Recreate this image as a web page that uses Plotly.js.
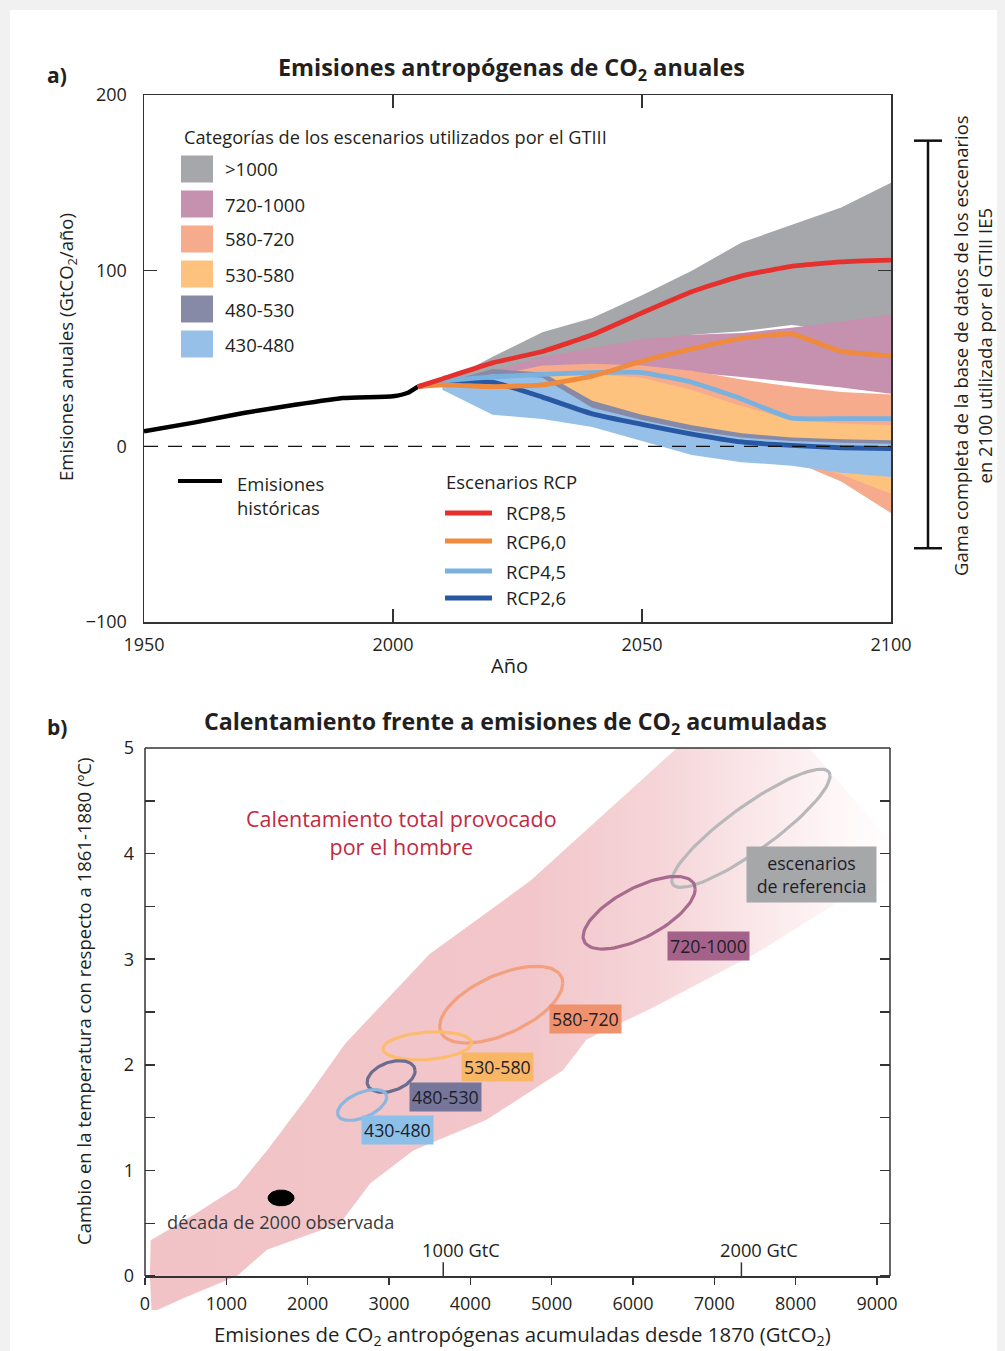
<!DOCTYPE html>
<html>
<head>
<meta charset="utf-8">
<script src="https://cdn.plot.ly/plotly-3.0.1.min.js"></script>
<style>
  html, body { margin: 0; padding: 0; background: #f1f1f1; }
  #grafico { width: 1005px; height: 1351px; }
</style>
</head>
<body>
<div id="grafico"></div>
<script>
// ---------- Panel a: emisiones anuales (GtCO2/año) ----------
const anosHist = [1950, 1960, 1970, 1980, 1990, 2000, 2003, 2005];
const emisHist = [8.5, 13.5, 19, 23.5, 27.5, 28.5, 30.5, 34];

const anosRCP = [2005, 2010, 2020, 2030, 2040, 2050, 2060, 2070, 2080, 2090, 2100];
const rcp85 = [34, 38.5, 47.5, 54, 63.5, 76, 88, 97, 102.5, 105, 106];
const rcp60 = [34, 35, 34, 35, 40, 48.5, 55.5, 61.5, 64, 54, 51.5];
const rcp45 = [34, 37, 39.5, 41, 42, 42, 36.5, 27, 16, 15.8, 15.8];
const rcp26 = [34, 36, 36.5, 28, 18.5, 12.5, 7, 2.5, 0.5, -0.8, -1.3];

// Rangos de las categorías de escenarios del GTIII (ppm CO2eq en 2100)
const anosCat = [2010, 2020, 2030, 2040, 2050, 2060, 2070, 2080, 2090, 2100];
const catNombres = ['>1000', '720-1000', '580-720', '530-580', '480-530', '430-480'];
const supMas1000 = [36, 51, 65, 73, 86, 100, 116, 126, 136, 150];
const infMas1000 = [34, 38, 43, 48, 54, 63.5, 65.5, 69, 66, 62];
const sup720 = [35.5, 43, 51, 56, 61, 63.5, 64.5, 67.5, 71, 75];
const inf720 = [33, 36, 38, 40, 42, 42, 39.5, 36.5, 33.5, 30];
const sup580 = [35, 40, 46, 47, 46, 43, 38, 34, 31, 29.5];
const inf580 = [33, 30, 24, 18, 12, 6, 0, -8, -20, -38];
const sup530 = [35, 40, 42, 41, 39, 32, 23, 15, 13, 12];
const inf530 = [33, 30, 25, 18, 11, 5, 0, -7, -16, -27];
const sup480 = [36, 44, 42, 26, 18, 12, 7.5, 5, 4, 3.5];
const inf480 = [32, 25, 20, 14, 8, 3, -1, -3, -4, -5];
const sup430 = [36, 41, 39, 22, 15, 9, 5, 3, 2, 1.5];
const inf430 = [32, 18, 15.5, 11, 3, -5, -9, -11, -15, -17.5];

// Gama completa de la base de datos en 2100
const gamaCompleta2100 = [-58, 174];

// ---------- Panel b: calentamiento frente a emisiones acumuladas ----------
const bandaEmis = [80, 60, 70, 600, 1130, 1500, 2000, 2460, 3500, 4735, 6540, 7000,
                   7600, 9300, 9300, 8630, 7500, 6210, 5430, 5140, 4200, 3300, 2770, 2400, 1500, 1130, 500, 150];
const bandaTemp = [-0.32, 0.0, 0.34, 0.58, 0.84, 1.19, 1.7, 2.2, 3.05, 3.74, 5.0, 5.5,
                   5.5, 4.0, 3.8, 3.59, 3.05, 2.53, 2.24, 1.95, 1.48, 1.19, 0.88, 0.5, 0.25, 0.0, -0.2, -0.32];

const catB = ['430-480', '480-530', '530-580', '580-720', '720-1000', 'escenarios<br>de referencia'];
const emisCentro = [2670, 3026, 3470, 4380, 6076, 7450];
const tempCentro = [1.62, 1.89, 2.18, 2.57, 3.44, 4.24];
const emisSemi = [302, 295, 545, 757, 689, 973];
const tempSemi = [0.125, 0.14, 0.13, 0.30, 0.26, 0.26];
const pendiente = [0.00025, 0.000178, 0.00005, 0.000271, 0.000327, 0.000509];

const obsEmis = 1673, obsTemp = 0.74;

const gtcTicks = [3667, 7333];
const gtcTexto = ['1000 GtC', '2000 GtC'];

// ---------- Estilo ----------
const W = 1005, H = 1351;
const FUENTE = '"Open Sans", "Noto Sans", sans-serif';
const TXT = '#231f20';
const px = x => x / W;
const py = y => 1 - y / H;

const coloresCat = ['#a5a7aa', '#c690af', '#f5ab8c', '#fdc27e', '#878aa6', '#97c0e8'];
const bandasSup = [supMas1000, sup720, sup580, sup530, sup480, sup430];
const bandasInf = [infMas1000, inf720, inf580, inf530, inf480, inf430];

const lineaColor = ['#8ab6df', '#6b6d8f', '#fbbd6d', '#f2a07e', '#a86a8e', '#b8b8ba'];
const etiquetaColor = ['#8cc0e8', '#75769a', '#f9b766', '#f0916d', '#a4628a', '#a5a7a9'];

function elipse(cx, cy, rx, ry, m) {
  const xs = [], ys = [];
  for (let i = 0; i <= 96; i++) {
    const t = 2 * Math.PI * i / 96;
    xs.push(cx + rx * Math.cos(t));
    ys.push(cy + m * rx * Math.cos(t) + ry * Math.sin(t));
  }
  return { xs, ys };
}

const traces = [];

// bandas de categorías (panel a)
bandasSup.forEach((sup, i) => {
  traces.push({
    x: anosCat.concat(anosCat.slice().reverse()),
    y: sup.concat(bandasInf[i].slice().reverse()),
    type: 'scatter', mode: 'lines', fill: 'toself',
    fillcolor: coloresCat[i], line: { width: 0, color: coloresCat[i] },
    name: catNombres[i], showlegend: false, hoverinfo: 'skip',
    xaxis: 'x', yaxis: 'y'
  });
});

// emisiones históricas
traces.push({
  x: anosHist, y: emisHist, type: 'scatter', mode: 'lines',
  line: { color: '#000', width: 4.5, shape: 'spline', smoothing: 0.5 },
  showlegend: false, xaxis: 'x', yaxis: 'y'
});

// escenarios RCP
const rcpSeries = [
  { y: rcp26, c: '#2857a4' },
  { y: rcp45, c: '#79b1df' },
  { y: rcp60, c: '#f08a3c' },
  { y: rcp85, c: '#e5302d' }
];
rcpSeries.forEach(s => {
  traces.push({
    x: anosRCP, y: s.y, type: 'scatter', mode: 'lines',
    line: { color: s.c, width: 4.8, shape: 'spline', smoothing: 0.4 },
    showlegend: false, xaxis: 'x', yaxis: 'y'
  });
});

// banda de calentamiento total (panel b)
traces.push({
  x: bandaEmis, y: bandaTemp, type: 'scatter', mode: 'lines', fill: 'toself',
  fillgradient: { type: 'horizontal', colorscale: [[0, '#f1c3c7'], [0.5, '#f2c6ca'], [0.68, '#f5d5d8'], [0.82, '#fbe9eb'], [0.92, '#fef7f8'], [1, '#ffffff']] },
  line: { width: 0 }, showlegend: false, hoverinfo: 'skip',
  xaxis: 'x2', yaxis: 'y2'
});

// elipses de las categorías
for (let i = catB.length - 1; i >= 0; i--) {
  const e = elipse(emisCentro[i], tempCentro[i], emisSemi[i], tempSemi[i], pendiente[i]);
  traces.push({
    x: e.xs, y: e.ys, type: 'scatter', mode: 'lines',
    line: { color: lineaColor[i], width: 3.2 },
    showlegend: false, hoverinfo: 'skip', xaxis: 'x2', yaxis: 'y2'
  });
}

// década de 2000 observada
const eo = elipse(obsEmis, obsTemp, 160, 0.075, 0);
traces.push({
  x: eo.xs, y: eo.ys, type: 'scatter', mode: 'lines', fill: 'toself',
  fillcolor: '#000', line: { color: '#000', width: 1 },
  showlegend: false, hoverinfo: 'skip', xaxis: 'x2', yaxis: 'y2'
});

// eje derecho auxiliar para las marcas espejo del panel b
traces.push({ x: [0], y: [0], type: 'scatter', mode: 'markers', marker: { opacity: 0 },
  showlegend: false, hoverinfo: 'skip', xaxis: 'x2', yaxis: 'y3' });

// ---------- Anotaciones y formas ----------
const shapes = [];
const annotations = [];

function texto(x, y, t, size, extra) {
  return Object.assign({ xref: 'paper', yref: 'paper', x: px(x), y: py(y), text: t, showarrow: false,
    xanchor: 'center', yanchor: 'middle', font: { family: FUENTE, size: size, color: TXT } }, extra || {});
}

// fondo blanco de la página
shapes.push({ type: 'rect', xref: 'paper', yref: 'paper', x0: px(10), x1: px(997), y0: py(10), y1: 0,
  fillcolor: '#ffffff', line: { width: 0 }, layer: 'below' });

// línea discontinua de cero
shapes.push({ type: 'line', xref: 'x', yref: 'y', x0: 1950, x1: 2100, y0: 0, y1: 0,
  line: { color: '#111', width: 1.3, dash: '14px,10px' }, layer: 'above' });

// gama completa en 2100
shapes.push({ type: 'line', xref: 'paper', yref: 'y', x0: px(928), x1: px(928),
  y0: gamaCompleta2100[0], y1: gamaCompleta2100[1], line: { color: '#111', width: 2.5 } });
gamaCompleta2100.forEach(v => shapes.push({ type: 'line', xref: 'paper', yref: 'y',
  x0: px(914), x1: px(942), y0: v, y1: v, line: { color: '#111', width: 2.5 } }));

// leyenda de categorías
annotations.push(texto(182, 137, 'Categorías de los escenarios utilizados por el GTIII', 18.2, { xanchor: 'left' }));
const filasY = [169, 204, 239, 274, 309, 344];
catNombres.forEach((n, i) => {
  shapes.push({ type: 'rect', xref: 'paper', yref: 'paper', x0: px(181), x1: px(213),
    y0: py(filasY[i] + 13.5), y1: py(filasY[i] - 13.5), fillcolor: coloresCat[i], line: { width: 0 } });
  annotations.push(texto(223, filasY[i], n.replace('>', '&gt;'), 18.5, { xanchor: 'left' }));
});

// leyenda de emisiones históricas
shapes.push({ type: 'line', xref: 'paper', yref: 'paper', x0: px(178), x1: px(222), y0: py(481), y1: py(481),
  line: { color: '#000', width: 4 } });
annotations.push(texto(235, 469, 'Emisiones<br>históricas', 18.5, { xanchor: 'left', yanchor: 'top', align: 'left' }));

// leyenda RCP
annotations.push(texto(444, 481, 'Escenarios RCP', 18.5, { xanchor: 'left' }));
const rcpLeyenda = [['RCP8,5', '#e5302d'], ['RCP6,0', '#f08a3c'], ['RCP4,5', '#79b1df'], ['RCP2,6', '#2857a4']];
const rcpFilas = [513, 541, 571, 598];
rcpLeyenda.forEach((r, i) => {
  shapes.push({ type: 'line', xref: 'paper', yref: 'paper', x0: px(445), x1: px(492),
    y0: py(rcpFilas[i]), y1: py(rcpFilas[i]), line: { color: r[1], width: 4.8 } });
  annotations.push(texto(504, rcpFilas[i], r[0], 18.5, { xanchor: 'left' }));
});

// títulos y rótulos
annotations.push(
  texto(57, 75, '<b>a)</b>', 21),
  texto(511, 69, '<b>Emisiones antropógenas de CO<sub>2</sub> anuales</b>', 23.4),
  texto(67, 347, 'Emisiones anuales (GtCO<sub>2</sub>/año)', 18.5, { textangle: -90 }),
  texto(509, 666, 'Año', 20),
  texto(973, 346, 'Gama completa de la base de datos de los escenarios<br>en 2100 utilizada por el GTIII IE5', 18.5, { textangle: -90 }),
  texto(57, 727, '<b>b)</b>', 21),
  texto(515, 722, '<b>Calentamiento frente a emisiones de CO<sub>2</sub> acumuladas</b>', 23.2),
  texto(83, 1002, 'Cambio en la temperatura con respecto a 1861-1880 (ºC)', 18.5, { textangle: -90 }),
  texto(522, 1335, 'Emisiones de CO<sub>2</sub> antropógenas acumuladas desde 1870 (GtCO<sub>2</sub>)', 20.4)
);

// marco del panel b (la banda sobresale por debajo del eje)
shapes.push(
  { type: 'line', xref: 'paper', yref: 'paper', x0: px(145), x1: px(145), y0: py(1276), y1: py(748), line: { color: '#333', width: 1.5 } },
  { type: 'line', xref: 'paper', yref: 'paper', x0: px(145), x1: px(890), y0: py(748), y1: py(748), line: { color: '#333', width: 1.5 } },
  { type: 'line', xref: 'paper', yref: 'paper', x0: px(890), x1: px(890), y0: py(1276), y1: py(748), line: { color: '#333', width: 1.5 } }
);

// texto del panel b
annotations.push(
  { xref: 'x2', yref: 'y2', x: 3150, y: 4.2, text: 'Calentamiento total provocado<br>por el hombre',
    xanchor: 'center', yanchor: 'middle', showarrow: false, font: { family: FUENTE, size: 21.5, color: '#c3293f' } },
  { xref: 'x2', yref: 'y2', x: 250, y: 0.51, xanchor: 'left', yanchor: 'middle', text: 'década de 2000 observada',
    showarrow: false, font: { family: FUENTE, size: 18.2, color: '#3a3a3a' } }
);

// etiquetas de categorías con recuadro de color
const etiquetaPos = [[3100, 1.38], [3700, 1.70], [4340, 1.98], [5410, 2.43], [6925, 3.125], [8190, 3.80]];
catB.forEach((n, i) => {
  annotations.push({ xref: 'x2', yref: 'y2', x: etiquetaPos[i][0], y: etiquetaPos[i][1],
    xanchor: 'center', yanchor: 'middle',
    text: n, showarrow: false, bgcolor: etiquetaColor[i], borderpad: i === 5 ? 4 : 2,
    width: i === 5 ? 121 : null,
    font: { family: FUENTE, size: 17.8, color: '#1e1e2a' } });
});

// marcas en GtC
gtcTicks.forEach((v, i) => {
  shapes.push({ type: 'line', xref: 'x2', yref: 'y2', x0: v, x1: v, y0: 0, y1: 0.13,
    line: { color: '#333', width: 1.5 } });
  annotations.push({ xref: 'x2', yref: 'y2', x: v + 220, y: 0.25, xanchor: 'center', yanchor: 'middle',
    text: gtcTexto[i], showarrow: false, font: { family: FUENTE, size: 18.3, color: TXT } });
});

const tickFont = { family: FUENTE, size: 18, color: TXT };
const layout = {
  width: W, height: H,
  margin: { l: 0, r: 0, t: 0, b: 0 },
  paper_bgcolor: '#f1f1f1', plot_bgcolor: '#ffffff',
  showlegend: false,
  xaxis: {
    domain: [px(144), px(891)], range: [1950, 2100], anchor: 'y',
    tickvals: [1950, 2000, 2050, 2100], ticks: 'inside', ticklen: 13, tickwidth: 1.5, tickcolor: '#333',
    showline: true, linecolor: '#333', linewidth: 1.5, mirror: 'ticks',
    showgrid: false, zeroline: false, tickfont: tickFont, ticklabelstandoff: 6
  },
  yaxis: {
    domain: [py(622), py(95)], range: [-100, 200], anchor: 'x',
    tickvals: [-100, 0, 100, 200], ticktext: ['−100', '0', '100', '200'],
    ticks: 'inside', ticklen: 13, tickwidth: 1.5, tickcolor: '#333',
    showline: true, linecolor: '#333', linewidth: 1.5, mirror: 'ticks',
    showgrid: false, zeroline: false, tickfont: tickFont, ticklabelstandoff: 12
  },
  xaxis2: {
    domain: [px(145), px(890)], range: [0, 9160], anchor: 'free', position: py(1276),
    tickvals: [0, 1000, 2000, 3000, 4000, 5000, 6000, 7000, 8000, 9000],
    ticks: 'outside', ticklen: 7, tickwidth: 1.5, tickcolor: '#333',
    showline: true, linecolor: '#333', linewidth: 1.5,
    showgrid: false, zeroline: false, tickfont: tickFont, ticklabelstandoff: 4
  },
  yaxis2: {
    domain: [py(1312), py(748)], range: [-0.34, 5], anchor: 'x2',
    tickmode: 'linear', tick0: 0, dtick: 1,
    ticks: 'inside', ticklen: 10, tickwidth: 1.5, tickcolor: '#333',
    minor: { tick0: 0, dtick: 0.5, ticks: 'inside', ticklen: 10, tickwidth: 1.5, tickcolor: '#333' },
    showline: false, showgrid: false, zeroline: false, tickfont: tickFont, ticklabelstandoff: 10
  },
  yaxis3: {
    overlaying: 'y2', side: 'right', anchor: 'x2', range: [-0.34, 5],
    tickmode: 'linear', tick0: 0, dtick: 1, showticklabels: false,
    ticks: 'inside', ticklen: 10, tickwidth: 1.5, tickcolor: '#333',
    minor: { tick0: 0, dtick: 0.5, ticks: 'inside', ticklen: 10, tickwidth: 1.5, tickcolor: '#333' },
    showline: false, showgrid: false, zeroline: false
  },
  shapes: shapes,
  annotations: annotations
};

Plotly.newPlot('grafico', traces, layout, { displayModeBar: false, staticPlot: true });
</script>
</body>
</html>
